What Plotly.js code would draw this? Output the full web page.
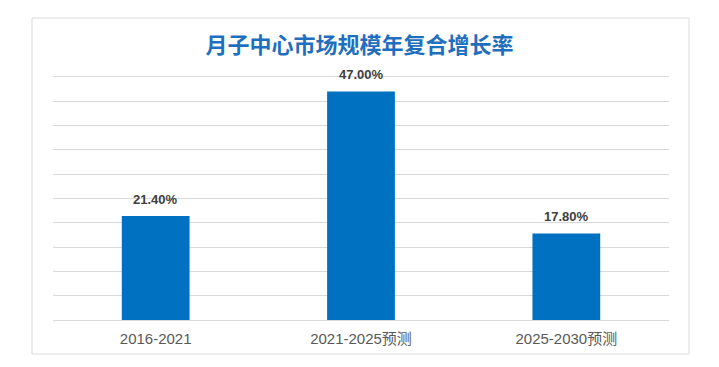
<!DOCTYPE html>
<html>
<head>
<meta charset="utf-8">
<script src="https://cdn.plot.ly/plotly-3.0.1.min.js"></script>
<style>
  html, body { margin: 0; padding: 0; background: #ffffff; }
  #chart { width: 719px; height: 367px; }
</style>
</head>
<body>
<div id="chart"></div>
<script>
const categories = ['2016-2021', '2021-2025预测', '2025-2030预测'];
const cagrValues = [21.4, 47.0, 17.8];
const valueLabels = ['21.40%', '47.00%', '17.80%'];
const chartTitle = '月子中心市场规模年复合增长率';

const barColor = '#0070C0';

const trace = {
  type: 'bar',
  x: categories,
  y: cagrValues,
  marker: { color: barColor, line: { width: 0 } },
  hoverinfo: 'none'
};

const annotations = categories.map((c, i) => ({
  x: c,
  y: cagrValues[i],
  xref: 'x',
  yref: 'y',
  text: valueLabels[i],
  showarrow: false,
  yanchor: 'bottom',
  yshift: 7,
  font: { family: 'Liberation Sans, Arial, sans-serif', size: 13, color: '#404040', weight: 'bold' }
}));

const plotW = 616, plotH = 248;
const layout = {
  width: 719,
  height: 367,
  margin: { l: 53, r: 50, t: 72, b: 47, pad: 0 },
  paper_bgcolor: '#ffffff',
  plot_bgcolor: '#ffffff',
  showlegend: false,
  bargap: 0.67,
  title: {
    text: chartTitle,
    x: 0.5,
    xref: 'container',
    xanchor: 'center',
    y: 1 - 45 / 367,
    yref: 'container',
    yanchor: 'middle',
    font: { family: 'Noto Sans CJK SC, sans-serif', size: 22, color: '#1F6FBF', weight: 'bold' }
  },
  xaxis: {
    type: 'category',
    showgrid: false,
    zeroline: false,
    showline: true,
    linecolor: '#D9D9D9',
    linewidth: 1,
    ticks: '',
    ticklabelstandoff: 5,
    tickfont: { family: 'Liberation Sans, Noto Sans CJK SC, sans-serif', size: 15, color: '#595959' },
    fixedrange: true
  },
  yaxis: {
    range: [0, 51],
    tickmode: 'linear',
    dtick: 5,
    tick0: 0,
    showgrid: true,
    gridcolor: '#D9D9D9',
    gridwidth: 1,
    zeroline: false,
    showline: false,
    showticklabels: false,
    ticks: '',
    fixedrange: true
  },
  annotations: annotations,
  shapes: [{
    type: 'rect',
    xref: 'paper',
    yref: 'paper',
    x0: (32 - 53) / plotW,
    x1: (689 - 53) / plotW,
    y0: (320 - 354) / plotH,
    y1: (320 - 18) / plotH,
    line: { color: '#D9D9D9', width: 1 },
    fillcolor: 'rgba(0,0,0,0)',
    layer: 'below'
  }]
};

Plotly.newPlot('chart', [trace], layout, { displayModeBar: false, staticPlot: true });
</script>
</body>
</html>
